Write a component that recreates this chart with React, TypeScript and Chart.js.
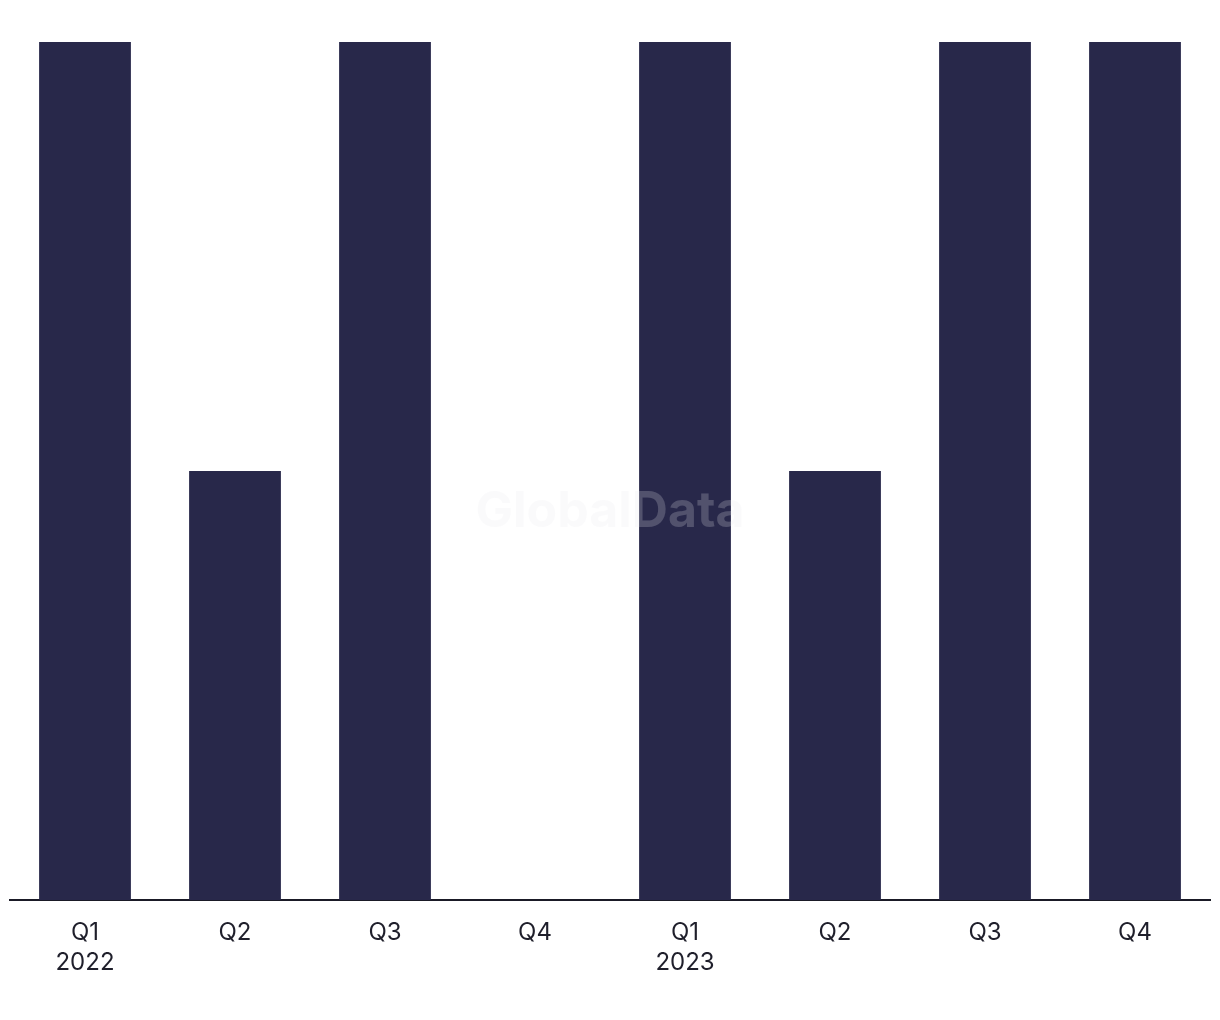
import React, { useEffect, useRef } from "react";
import { Chart, registerables } from "chart.js";

Chart.register(...registerables);

const quarters = ["Q1", "Q2", "Q3", "Q4", "Q1", "Q2", "Q3", "Q4"];
const years = ["2022", "", "", "", "2023", "", "", ""];
const dealCounts = [2, 1, 2, 0, 2, 1, 2, 2];

const BAR_COLOR = "#28284a";
const TEXT_COLOR = "#1f1f2b";

const watermark = {
  id: "watermark",
  afterDatasetsDraw(chart: any) {
    const { ctx, chartArea } = chart;
    ctx.save();
    ctx.font = "bold 50px Inter, 'Liberation Sans', sans-serif";
    ctx.fillStyle = "rgba(230,230,236,0.22)";
    ctx.textAlign = "center";
    ctx.textBaseline = "middle";
    ctx.fillText("GlobalData", (chartArea.left + chartArea.right) / 2, 512);
    ctx.restore();
  },
};

export default function App() {
  const ref = useRef<HTMLCanvasElement>(null);
  useEffect(() => {
    if (!ref.current) return;
    const labels = quarters.map((q, i) => (years[i] ? [q, years[i]] : q));
    const chart = new Chart(ref.current, {
      type: "bar",
      data: {
        labels,
        datasets: [
          {
            data: dealCounts,
            backgroundColor: BAR_COLOR,
            barPercentage: 0.9,
            categoryPercentage: 0.68,
          },
        ],
      },
      options: {
        animation: false,
        responsive: false,
        maintainAspectRatio: false,
        layout: { padding: { top: 42, left: 10, right: 10, bottom: 24 } },
        plugins: {
          legend: { display: false },
          tooltip: { enabled: false },
        },
        scales: {
          x: {
            grid: { display: false, drawTicks: false },
            border: { display: true, color: "#1a1a26", width: 2 },
            ticks: {
              color: TEXT_COLOR,
              font: { family: "Inter, 'Liberation Sans', sans-serif", size: 24, lineHeight: 1.25 },
              padding: 18,
              maxRotation: 0,
              autoSkip: false,
            },
          },
          y: {
            display: false,
            min: 0,
            max: 2,
          },
        },
      },
      plugins: [watermark],
    });
    return () => chart.destroy();
  }, []);
  return (
    <div style={{ position: "absolute", left: 0, top: 0, width: 1220, height: 1020, background: "#fff" }}>
      <canvas ref={ref} width={1220} height={1020} style={{ width: 1220, height: 1020 }} />
    </div>
  );
}
